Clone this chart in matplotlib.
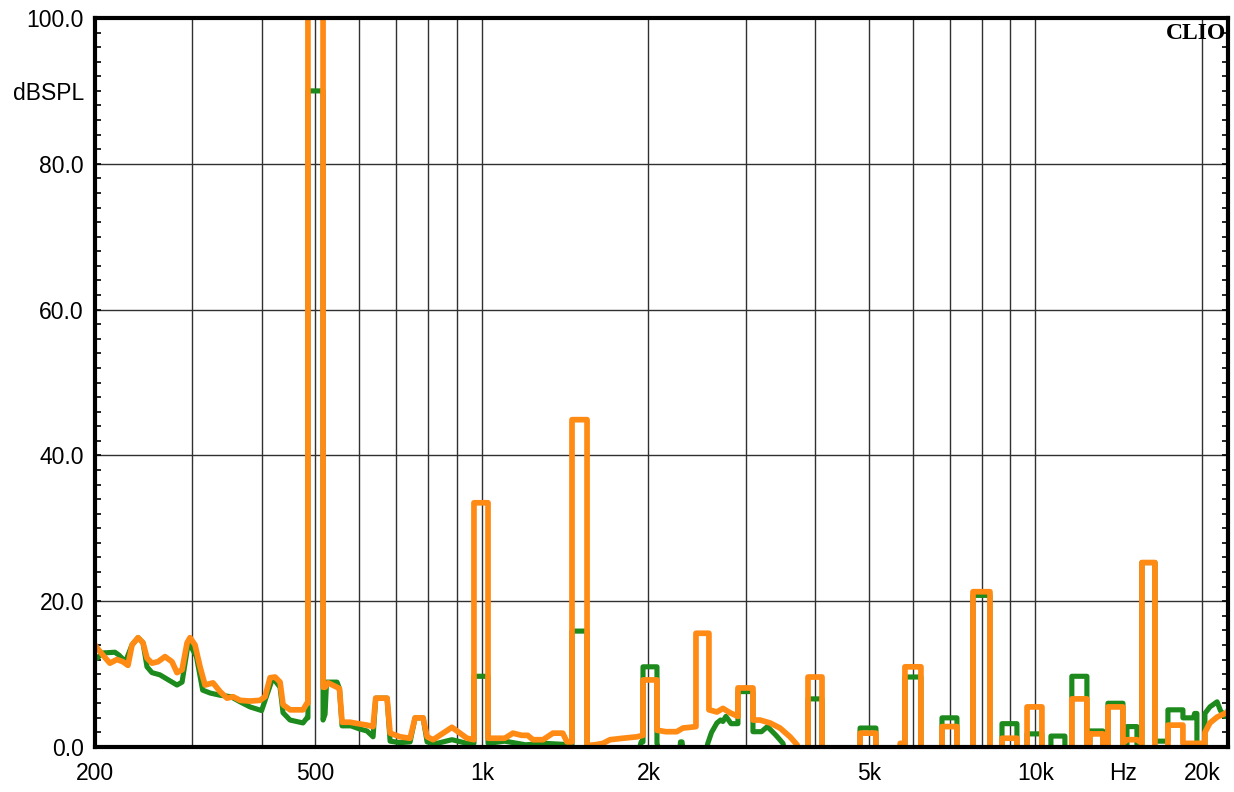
import matplotlib
matplotlib.use("Agg")
import matplotlib.pyplot as plt
import numpy as np

# ---------------- data ----------------
orange_freq = [200, 201.7, 206.7, 212.8, 219.1, 224.6, 229.4, 233.3, 239.2, 244.2, 248.3, 253.5, 259.9,
               267.6, 275.5, 281.3, 287.3, 293.4, 297.0, 303.2, 309.6, 316.1, 326.8, 336.5, 346.4, 355.2,
               365.7, 381.1, 397.4, 405.8, 414.3, 423.0, 431.9, 437.3, 450.2, 475.2, 483.0,
               485, 485, 516.5, 516.5, 520.8, 527.3, 547.4, 553, 559, 578, 597.5, 620.3, 636, 643, 674.2,
               682.7, 711.6, 741.9, 757.4, 783.1, 796.3, 816.5, 851.1, 883, 912.9, 939.9, 967.7,
               967.7, 1026, 1026, 1100, 1138, 1180, 1210, 1237, 1290, 1344, 1400, 1425, 1455,
               1455, 1549, 1549, 1600, 1655, 1704, 1798, 1907, 1955, 1955, 2072, 2072, 2150, 2250, 2308,
               2377, 2437, 2437, 2572, 2572, 2659, 2726, 2807, 2902, 2902, 3089, 3089, 3180, 3316, 3457,
               3604, 3711, 3800, 3884, 3884, 4117, 4117, 4823, 4823, 5152, 5152, 5650, 5700, 5813,
               5813, 6213, 6213, 6782, 6782, 7217, 7217, 7715, 7715, 8280, 8280, 8705, 8705, 9263, 9263,
               9661, 9661, 10278, 10278, 11640, 11640, 12393, 12393, 12548, 12548, 13247, 13247, 13527,
               13527, 14398, 14398, 14640, 15261, 15581, 15581, 16448, 16448, 17361, 17361, 18478, 18478,
               19586, 20250, 20250, 20675, 21300, 22005, 22290]
orange_db = [14.0, 13.6, 12.6, 11.5, 12.0, 11.7, 11.2, 14.0, 15.0, 14.3, 12.2, 11.5, 11.7,
             12.4, 11.7, 10.2, 10.6, 14.3, 15.0, 14.0, 11.0, 8.5, 8.8, 7.6, 6.7, 6.9,
             6.4, 6.3, 6.4, 6.9, 9.5, 9.6, 8.9, 5.8, 5.1, 5.1, 6.0,
             6.0, 106, 106, 8.2, 8.2, 8.8, 8.2, 8.0, 3.4, 3.4, 3.2, 3.0, 2.8, 6.7, 6.7,
             1.9, 1.4, 1.2, 4.0, 4.0, 1.4, 1.0, 1.9, 2.7, 1.9, 1.2, 1.0,
             33.5, 33.5, 1.2, 1.2, 1.9, 1.6, 1.6, 1.0, 1.0, 1.9, 1.9, 0.7, 0.7,
             44.9, 44.9, 0.2, 0.3, 0.5, 1.0, 1.2, 1.4, 1.6, 9.2, 9.2, 2.3, 2.1, 2.1, 2.6,
             2.7, 2.8, 15.6, 15.6, 5.1, 4.8, 5.3, 4.7, 4.2, 8.1, 8.1, 3.7, 3.7, 3.3, 2.6,
             1.4, 0.3, -2, -2, 9.6, 9.6, -2, -2, 1.9, 1.9, -2, -2, 0.5, 0.5,
             11.0, 11.0, -2, -2, 2.8, 2.8, -2, -2, 21.3, 21.3, -2, -2, 1.2, 1.2, -2,
             -2, 5.5, 5.5, -2, -2, 6.6, 6.6, 0.0, 0.0, 1.8, 1.8, 0.0, 0.0,
             5.5, 5.5, 0.5, 1.0, 1.0, 0.5, 25.3, 25.3, -2, -2, 3.0, 3.0, 0.5,
             0.5, 0.5, 2.0, 3.3, 4.1, 4.6, 4.8]

green_freq = [200, 201.7, 206.7, 217.3, 221, 227, 233.3, 239.2, 244.2, 248.3, 253.5, 262, 275.5, 281.3,
              287.3, 294, 297, 305, 313, 323, 336.5, 352, 365.7, 381.1, 400, 410, 419, 431.9, 437.3,
              450.2, 475.2, 483, 485, 485, 516.5, 516.5, 520.8, 524, 547.4, 553, 559, 580, 600, 620,
              636, 643, 674.2, 682.7, 711.6, 741.9, 757.4, 783.1, 796.3, 830, 883, 940, 967.7,
              967.7, 1026, 1026, 1100, 1200, 1300, 1455, 1455, 1549, 1549, 1900, 1940, 1955,
              1955, 2072, 2072, 2120, 2270, 2285, 2300, 2320, 2520, 2560, 2600, 2659, 2700, 2726,
              2760, 2820, 2902, 2902, 3089, 3089, 3200, 3280, 3400, 3500, 3560, 3884, 3884, 4117,
              4117, 4823, 4823, 5152, 5152, 5813, 5813, 6213, 6213, 6782, 6782, 7217, 7217, 7715,
              7715, 8280, 8280, 8705, 8705, 9263, 9263, 9661, 9661, 10278, 10278, 10670, 10670,
              11308, 11308, 11640, 11640, 12393, 12393, 12548, 12548, 13247, 13247, 13527, 13527,
              14398, 14398, 14640, 14640, 15261, 15261, 15581, 15581, 16448, 16448, 17361, 17361,
              18478, 18478, 19300, 19400, 19586, 19586, 20250, 20250, 20675, 21300, 21600, 22005, 22290]
green_db = [12.0, 12.2, 12.9, 13.0, 12.6, 11.7, 14.0, 15.0, 14.3, 11.0, 10.2, 9.9, 8.9, 8.5,
            8.9, 13.7, 14.0, 12.4, 7.8, 7.4, 7.1, 6.9, 6.2, 5.5, 5.0, 7.4, 9.5, 8.2, 4.7,
            3.7, 3.3, 4.0, 4.0, 90.0, 90.0, 3.7, 4.5, 8.9, 8.9, 8.0, 2.9, 2.9, 2.5, 2.2,
            1.4, 6.7, 6.7, 0.8, 0.6, 0.7, 4.0, 4.0, 0.7, 0.5, 1.0, 0.5, 0.5,
            9.7, 9.7, 0.5, 0.8, 0.3, 0.5, 0.3, 15.9, 15.9, -2, -2, 0.7, 0.7,
            11.0, 11.0, 0.5, -2, -2, 0.7, 0.7, -2, -2, 0.5, 2.0, 3.3, 3.7, 3.5,
            4.2, 3.2, 3.2, 7.6, 7.6, 2.1, 2.1, 2.8, 1.6, 0.5, -2, -2, 6.6, 6.6,
            -2, -2, 2.6, 2.6, -2, -2, 9.6, 9.6, -2, -2, 4.0, 4.0, -2, -2,
            20.8, 20.8, -2, -2, 3.2, 3.2, -2, -2, 1.8, 1.8, -2, -2, 1.5,
            1.5, -2, -2, 9.7, 9.7, -2, -2, 2.2, 2.2, -2, -2,
            6.0, 6.0, -2, -2, 2.8, 2.8, -2, -2, 25.3, 25.3, 0.8, 0.8, 5.1,
            5.1, 4.0, 4.0, 4.6, 4.6, 0.3, 0.3, 4.6, 5.5, 6.2, 5.0, 4.2, 5.0]

x_grid = [300, 400, 500, 600, 700, 800, 900, 1000, 2000, 3000, 4000, 5000, 6000, 7000, 8000,
          9000, 10000, 20000]
x_labels = {200: "200", 500: "500", 1000: "1k", 2000: "2k", 5000: "5k", 10000: "10k", 20000: "20k"}
hz_label_freq = 14400
y_major = [0, 20, 40, 60, 80, 100]
y_labels = ["0.0", "20.0", "40.0", "60.0", "80.0", "100.0"]
x_range = (200, 22290)
y_range = (0, 100)

# ---------------- figure ----------------
W, H = 1234, 792
fig = plt.figure(figsize=(W / 100, H / 100), dpi=100)
fig.patch.set_facecolor("white")
ax = fig.add_axes([95 / W, (H - 747) / H, (1228 - 95) / W, (747 - 18) / H])

label_font = "Liberation Sans"
fs = 16.5
orange = "#ff8a14"
green = "#1c8a1c"

ax.plot(green_freq, green_db, color=green, lw=3.7, solid_joinstyle="round",
        solid_capstyle="round", zorder=3)
ax.plot(orange_freq, orange_db, color=orange, lw=4.1, solid_joinstyle="round",
        solid_capstyle="round", zorder=4)

ax.set_xscale("log")
ax.set_xlim(*x_range)
ax.set_ylim(*y_range)

# x grid + labels
ticks = [200] + x_grid
ax.set_xticks(ticks)
ax.set_xticklabels([x_labels.get(t, "") for t in ticks], fontsize=fs, family=label_font)
ax.xaxis.set_minor_locator(matplotlib.ticker.NullLocator())
ax.tick_params(axis="x", which="major", length=0, pad=11)
ax.grid(True, axis="x", which="major", color="#303030", lw=1.0, zorder=1)
ax.annotate("Hz", xy=(hz_label_freq, 0), xycoords=("data", "axes fraction"),
            xytext=(0, -11), textcoords="offset points", ha="center", va="top",
            fontsize=fs, family=label_font)

# y grid + labels
ax.set_yticks(y_major)
ax.set_yticklabels(y_labels, fontsize=fs, family=label_font)
ax.yaxis.set_minor_locator(matplotlib.ticker.MultipleLocator(2))
ax.tick_params(axis="y", which="both", direction="in", left=True, right=True,
               length=4, width=1.2, pad=8)
ax.grid(True, axis="y", which="major", color="#303030", lw=1.0, zorder=1)
ax.annotate("dBSPL", xy=(0, 89.7), xycoords=("axes fraction", "data"),
            xytext=(-8, 0), textcoords="offset points", ha="right", va="center",
            fontsize=fs, family=label_font)

ax.text(0.998, 0.979, "CLIO", transform=ax.transAxes, ha="right", va="center",
        fontsize=17, fontweight="bold", family="Liberation Serif", zorder=5)

for s in ax.spines.values():
    s.set_linewidth(3.0)
    s.set_color("black")
    s.set_zorder(6)

fig.savefig("out.png", dpi=100, facecolor="white")
